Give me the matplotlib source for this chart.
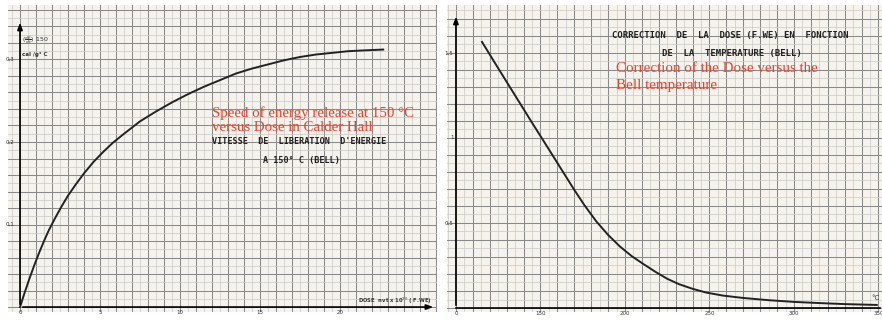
import numpy as np
import matplotlib.pyplot as plt
from matplotlib.ticker import MultipleLocator

# courbe gauche : vitesse de liberation d'energie a 150 C vs dose
dose = [0, 0.3, 0.6, 0.9, 1.2, 1.5, 1.8, 2.2, 2.6, 3.0, 3.5, 4.0, 4.6, 5.2, 5.8,
        6.5, 7.5, 8.5, 9.5, 10.5, 11.5, 12.5, 13.5, 14.5, 15.5, 16.5, 17.5,
        18.5, 19.5, 20.5, 21.5, 22.7]
vitesse = [0, 0.018, 0.035, 0.051, 0.066, 0.08, 0.093, 0.108, 0.122, 0.135,
           0.149, 0.162, 0.176, 0.188, 0.199, 0.21, 0.225, 0.237, 0.248, 0.258,
           0.267, 0.275, 0.283, 0.289, 0.294, 0.299, 0.303, 0.306, 0.308, 0.31,
           0.311, 0.312]

# courbe droite : correction de la dose vs temperature Bell
temp = [115.4, 125, 135, 145, 152, 158, 164, 170, 176, 183, 190, 197, 204, 211,
        218, 225, 232, 240, 248, 258, 270, 285, 300, 315, 330, 349]
correction = [1.565, 1.41, 1.25, 1.09, 0.98, 0.885, 0.79, 0.695, 0.605, 0.51,
              0.43, 0.362, 0.305, 0.258, 0.213, 0.172, 0.14, 0.113, 0.091, 0.073,
              0.059, 0.046, 0.036, 0.029, 0.023, 0.018]

x_ticks_g = [0, 5, 10, 15, 20]
y_ticks_g = [0.1, 0.2, 0.3]
y_labels_g = ['0,1', '0,2', '0,3']
x_ticks_d = [100, 150, 200, 250, 300, 350]
x_labels_d = ['0', '150', '200', '250', '300', '350']
y_ticks_d = [0.5, 1.0, 1.5]
y_labels_d = ['0,5', '1', '1,5']

PAPER = '#f5f3ec'
ROUGE = '#e8432e'
W, H = 882, 320
FLECHE = dict(arrowstyle='-|>,head_width=0.15,head_length=0.4', color='black', lw=1.2)


def papier(ax, maj_x, min_x, maj_y, min_y):
    ax.set_facecolor(PAPER)
    for s in ax.spines.values():
        s.set_visible(False)
    ax.xaxis.set_major_locator(MultipleLocator(maj_x))
    ax.xaxis.set_minor_locator(MultipleLocator(min_x))
    ax.yaxis.set_major_locator(MultipleLocator(maj_y))
    ax.yaxis.set_minor_locator(MultipleLocator(min_y))
    ax.grid(which='major', color='#8a8a8a', lw=0.75)
    ax.grid(which='minor', color='#c8c8c8', lw=0.5)
    ax.tick_params(which='both', length=0, labelbottom=False, labelleft=False)
    ax.set_axisbelow(True)


fig = plt.figure(figsize=(W / 100, H / 100), dpi=100)
fig.patch.set_facecolor('white')

# ---- panneau gauche
ax1 = fig.add_axes([8 / W, 8 / H, 429 / W, 307 / H])
papier(ax1, 1, 0.5, 0.02, 0.01)
ax1.set_xlim(-0.75, 26.06)
ax1.set_ylim(-0.006, 0.366)
ax1.annotate('', xy=(0, 0.348), xytext=(0, 0), arrowprops=FLECHE)
ax1.annotate('', xy=(26.0, 0), xytext=(0, 0), arrowprops=FLECHE)
ax1.plot(dose, vitesse, color='#222222', lw=1.4, solid_joinstyle='round')
for t in x_ticks_g:
    ax1.text(t, -0.004, str(t), fontsize=4, ha='center', va='top', color='#333333')
for t, l in zip(y_ticks_g, y_labels_g):
    ax1.text(-0.35, t, l, fontsize=4, ha='right', va='center', color='#333333')
ax1.text(0.15, 0.323, r'$(\frac{dE}{dt})$ 150', fontsize=4.5, ha='left', va='center', color='#333333')
ax1.text(0.15, 0.306, 'cal /g° C', fontsize=4, ha='left', va='center', color='#333333', weight='bold')
ax1.text(25.75, 0.008, r'DOSE  nvt x 10$^{20}$ ( F.WE)', fontsize=3.8, ha='right', va='center',
         color='#333333', weight='bold')
ax1.text(12.0, 0.235, 'Speed of energy release at 150 °C', fontsize=10.7,
         family='Liberation Serif', color=ROUGE, ha='left', va='center')
ax1.text(12.0, 0.217, 'versus Dose in Calder Hall', fontsize=10.7,
         family='Liberation Serif', color=ROUGE, ha='left', va='center')
ax1.text(12.0, 0.2, "VITESSE  DE  LIBERATION  D'ENERGIE", fontsize=6.1,
         family='DejaVu Sans Mono', weight='bold', color='#222222', ha='left', va='center')
ax1.text(15.2, 0.178, 'A 150° C (BELL)', fontsize=6.1,
         family='DejaVu Sans Mono', weight='bold', color='#222222', ha='left', va='center')

# ---- panneau droit
ax2 = fig.add_axes([447 / W, 8 / H, 435 / W, 307 / H])
papier(ax2, 10, 5, 0.1, 0.05)
ax2.set_xlim(94.7, 352.1)
ax2.set_ylim(-0.0235, 1.782)
ax2.annotate('', xy=(100, 1.73), xytext=(100, 0), arrowprops=FLECHE)
ax2.plot([100, 351], [0, 0], color='black', lw=1.2)
ax2.plot(temp, correction, color='#222222', lw=1.4, solid_joinstyle='round')
for t, l in zip(x_ticks_d, x_labels_d):
    ax2.text(t, -0.015, l, fontsize=4, ha='center', va='top', color='#333333')
for t, l in zip(y_ticks_d, y_labels_d):
    ax2.text(98.5, t, l, fontsize=4, ha='right', va='center', color='#333333')
ax2.text(348.5, 0.06, '°C', fontsize=5, ha='center', va='center', color='#333333')
ax2.text(192.3, 1.6, 'CORRECTION  DE  LA  DOSE (F.WE) EN  FONCTION', fontsize=6.5,
         family='DejaVu Sans Mono', weight='bold', color='#222222', ha='left', va='center')
ax2.text(221.9, 1.494, 'DE  LA  TEMPERATURE (BELL)', fontsize=6.5,
         family='DejaVu Sans Mono', weight='bold', color='#222222', ha='left', va='center')
ax2.text(194.7, 1.41, 'Correction of the Dose versus the', fontsize=10.8,
         family='Liberation Serif', color=ROUGE, ha='left', va='center')
ax2.text(194.7, 1.31, 'Bell temperature', fontsize=10.8,
         family='Liberation Serif', color=ROUGE, ha='left', va='center')

fig.savefig('out.png', dpi=100, facecolor=fig.get_facecolor())
